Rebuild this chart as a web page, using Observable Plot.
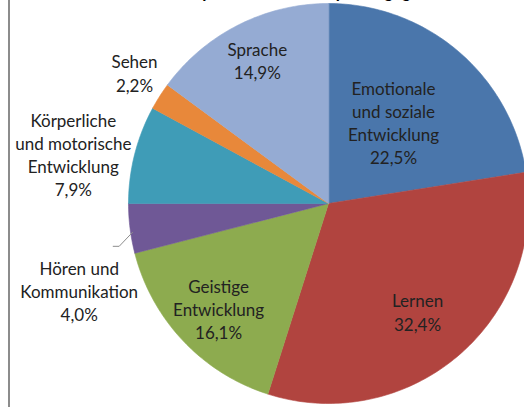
<!DOCTYPE html>
<html><head><meta charset="utf-8">
<script src="https://cdn.jsdelivr.net/npm/d3@7"></script>
<script src="https://cdn.jsdelivr.net/npm/@observablehq/plot@0.6"></script>
<style>
html,body{margin:0;padding:0;background:#fff;overflow:hidden;width:524px;height:407px}
#wrap{position:relative;width:524px;height:407px;overflow:hidden}
#title{position:absolute;left:153px;top:-16px;font:bold 17px Lato,sans-serif;line-height:16px;white-space:nowrap;color:#000;z-index:2}
#frame{position:absolute;left:8px;top:0;width:2px;height:407px;background:#8c8c8c;z-index:2}
</style></head><body>
<div id="wrap"><div id="chart"></div><div id="title">Anteil pro Förderschwerpunkt gegenüber allen Schülern mit Förderbedarf</div><div id="frame"></div></div>
<script>
// ---- data ----
const categories = ["Emotionale und soziale Entwicklung","Lernen","Geistige Entwicklung","Hören und Kommunikation","Körperliche und motorische Entwicklung","Sehen","Sprache"];
const labelLines = ["Emotionale\nund soziale\nEntwicklung","Lernen","Geistige\nEntwicklung","Hören und\nKommunikation","Körperliche\nund motorische\nEntwicklung","Sehen","Sprache"];
const values = [22.5, 32.4, 16.1, 4.0, 7.9, 2.2, 14.9];
const valueLabels = ["22,5%","32,4%","16,1%","4,0%","7,9%","2,2%","14,9%"];
const colors = ["#4A76AB","#B1443F","#8DAB4F","#6F5896","#3F9CB7","#E8883A","#95ABD3"];

// ---- layout (label placement along each slice's mid-angle) ----
const labelRadius = [0.52, 0.70, 0.76, 1.32, 1.30, 1.17, 0.80];
const labelAngleShift = [-1.8, 1.2, -0.3, -12.0, -3.2, 1.6, 0.4]; // degrees
const W = 524, H = 407, cx = 328, cy = 203, rpx = 200;

const rows = categories.map((c, i) => ({name: c, value: values[i], label: labelLines[i] + "\n" + valueLabels[i], i}));
const arcs = d3.pie().sort(null).value(d => d.value)(rows);

const slicePts = [];
for (const a of arcs) {
  slicePts.push({name: a.data.name, x: 0, y: 0});
  const n = Math.max(2, Math.ceil((a.endAngle - a.startAngle) / (Math.PI / 180)) + 1);
  for (let k = 0; k <= n; k++) {
    const t = a.startAngle + (a.endAngle - a.startAngle) * k / n;
    slicePts.push({name: a.data.name, x: Math.sin(t), y: Math.cos(t)});
  }
}

const labels = arcs.map(a => {
  const i = a.data.i;
  const t = (a.startAngle + a.endAngle) / 2 + labelAngleShift[i] * Math.PI / 180;
  return {label: a.data.label, x: Math.sin(t) * labelRadius[i], y: Math.cos(t) * labelRadius[i], i};
});

// leader line for the small "Hören" slice
const hoeren = arcs[3];
const hm = (hoeren.startAngle + hoeren.endAngle) / 2 - 0.02;
const hl = labels[3];
const leader = [
  {x: Math.sin(hm) * 0.99, y: Math.cos(hm) * 0.99},
  {x: hl.x + 0.20, y: hl.y + 0.22},
  {x: hl.x + 0.17, y: hl.y + 0.22}
];

const chart = Plot.plot({
  width: W, height: H,
  margin: 0,
  x: {domain: [-cx / rpx, (W - cx) / rpx], axis: null},
  y: {domain: [-(H - cy) / rpx, cy / rpx], axis: null},
  color: {domain: categories, range: colors},
  style: {background: "white", overflow: "hidden"},
  marks: [
    Plot.line(slicePts, {x: "x", y: "y", z: "name", fill: "name", stroke: "name", strokeWidth: 0.6, curve: "linear-closed", clip: true}),
    Plot.line(leader, {x: "x", y: "y", stroke: "#8c8c8c", strokeWidth: 1}),
    Plot.text(labels, {x: "x", y: "y", text: "label", fontSize: 17, lineHeight: 1.36, fill: "#222", fontFamily: "Lato, sans-serif"})
  ]
});
document.getElementById("chart").appendChild(chart);
</script>
</body></html>
